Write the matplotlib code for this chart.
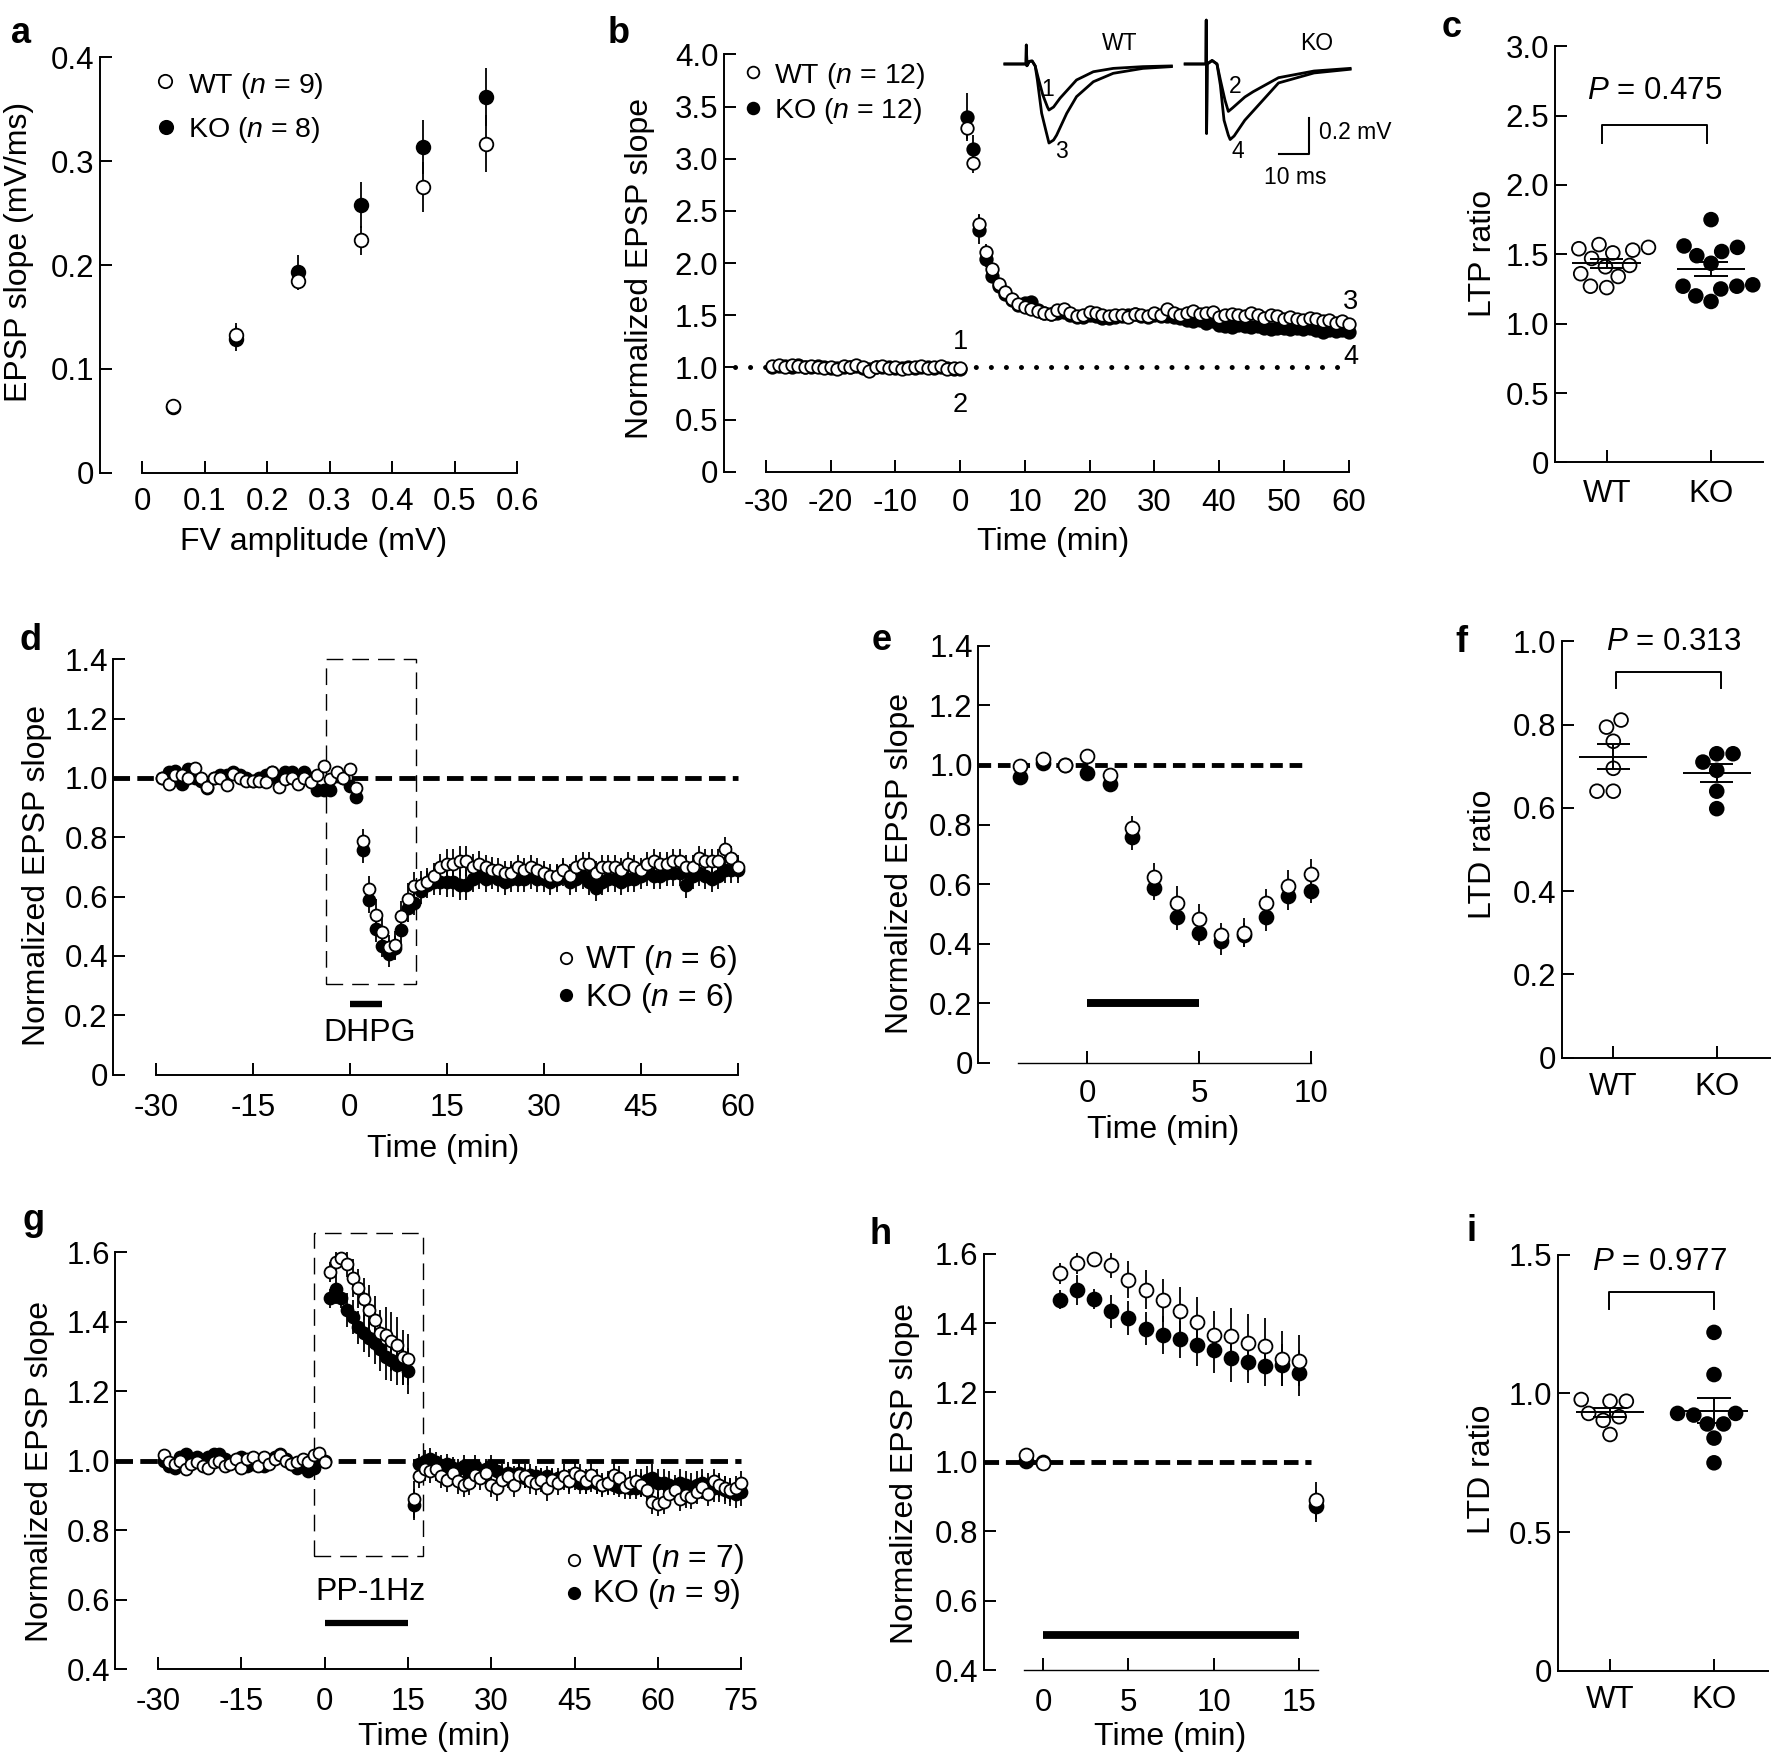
import numpy as np
import pandas as pd
import matplotlib
matplotlib.use("Agg")
import matplotlib.pyplot as plt
import seaborn as sns
from matplotlib.patches import Rectangle

# ======================= DATA =======================
# ---- panel a : input/output ----
a_fv = [0.05, 0.15, 0.25, 0.35, 0.45, 0.55]
a_wt = [0.0645, 0.133, 0.1845, 0.2237, 0.2753, 0.317]
a_wt_err = [0.003, 0.011, 0.009, 0.014, 0.024, 0.027]
a_ko = [0.063, 0.129, 0.1934, 0.2575, 0.3138, 0.3615]
a_ko_err = [0.004, 0.012, 0.016, 0.022, 0.026, 0.028]
a_xticks = [0, 0.1, 0.2, 0.3, 0.4, 0.5, 0.6]
a_xticklabels = ['0', '0.1', '0.2', '0.3', '0.4', '0.5', '0.6']
a_yticks = [0, 0.1, 0.2, 0.3, 0.4]
a_yticklabels = ['0', '0.1', '0.2', '0.3', '0.4']

# ---- panel b : LTP time course ----
b_time = list(range(-29, 61))
b_wt = [1.01, 1.02, 1.00, 1.02, 1.01, 1.00, 1.01, 1.00, 0.99, 1.00,
        0.98, 1.01, 1.00, 1.02, 1.00, 0.97, 1.00, 1.01, 0.99, 1.00,
        0.98, 0.99, 1.00, 1.01, 0.99, 1.00, 1.01, 0.98, 0.99, 0.99,
        3.29, 2.96, 2.37, 2.11, 1.94, 1.80, 1.72, 1.66, 1.61, 1.58,
        1.56, 1.54, 1.52, 1.51, 1.55, 1.56, 1.52, 1.49, 1.50, 1.53,
        1.52, 1.50, 1.49, 1.50, 1.50, 1.48, 1.51, 1.50, 1.49, 1.52,
        1.50, 1.56, 1.52, 1.50, 1.52, 1.54, 1.51, 1.52, 1.53, 1.48,
        1.50, 1.51, 1.50, 1.49, 1.52, 1.50, 1.47, 1.50, 1.49, 1.46,
        1.48, 1.46, 1.45, 1.47, 1.46, 1.44, 1.45, 1.43, 1.44, 1.42]
b_wt_err = [0.02, 0.02, 0.02, 0.02, 0.02, 0.02, 0.02, 0.02, 0.02, 0.02,
            0.02, 0.02, 0.02, 0.02, 0.02, 0.02, 0.02, 0.02, 0.02, 0.02,
            0.02, 0.02, 0.02, 0.02, 0.02, 0.02, 0.02, 0.02, 0.02, 0.02,
            0.10, 0.10, 0.10, 0.07, 0.06, 0.05, 0.05, 0.04, 0.04, 0.04,
            0.04, 0.04, 0.04, 0.04, 0.04, 0.04, 0.04, 0.04, 0.04, 0.04,
            0.04, 0.04, 0.04, 0.04, 0.04, 0.04, 0.04, 0.04, 0.04, 0.04,
            0.04, 0.04, 0.04, 0.04, 0.04, 0.04, 0.04, 0.04, 0.04, 0.04,
            0.04, 0.04, 0.04, 0.04, 0.04, 0.04, 0.04, 0.04, 0.04, 0.04,
            0.04, 0.04, 0.04, 0.04, 0.04, 0.04, 0.04, 0.04, 0.04, 0.04]
b_ko = [1.00, 1.01, 1.01, 1.00, 1.02, 1.00, 1.00, 1.01, 1.00, 0.99,
        0.99, 1.00, 1.00, 1.01, 0.99, 0.98, 1.00, 1.00, 1.00, 0.99,
        0.99, 1.00, 0.99, 1.00, 1.00, 0.99, 1.00, 0.99, 0.98, 0.98,
        3.40, 3.09, 2.32, 2.04, 1.88, 1.78, 1.70, 1.65, 1.60, 1.62,
        1.63, 1.55, 1.52, 1.51, 1.52, 1.53, 1.50, 1.48, 1.48, 1.50,
        1.49, 1.47, 1.47, 1.48, 1.49, 1.50, 1.51, 1.49, 1.48, 1.50,
        1.49, 1.49, 1.48, 1.47, 1.45, 1.44, 1.45, 1.43, 1.44, 1.41,
        1.40, 1.39, 1.41, 1.40, 1.39, 1.40, 1.38, 1.37, 1.38, 1.38,
        1.37, 1.38, 1.37, 1.38, 1.36, 1.34, 1.36, 1.35, 1.36, 1.34]
b_ko_err = [0.02, 0.02, 0.02, 0.02, 0.02, 0.02, 0.02, 0.02, 0.02, 0.02,
            0.02, 0.02, 0.02, 0.02, 0.02, 0.02, 0.02, 0.02, 0.02, 0.02,
            0.02, 0.02, 0.02, 0.02, 0.02, 0.02, 0.02, 0.02, 0.02, 0.02,
            0.23, 0.14, 0.14, 0.08, 0.06, 0.05, 0.05, 0.05, 0.05, 0.05,
            0.05, 0.05, 0.05, 0.05, 0.05, 0.05, 0.05, 0.05, 0.05, 0.05,
            0.05, 0.05, 0.05, 0.05, 0.05, 0.05, 0.05, 0.05, 0.05, 0.05,
            0.05, 0.05, 0.05, 0.05, 0.05, 0.05, 0.05, 0.05, 0.05, 0.05,
            0.05, 0.05, 0.05, 0.05, 0.05, 0.05, 0.05, 0.05, 0.05, 0.05,
            0.05, 0.05, 0.05, 0.05, 0.05, 0.05, 0.05, 0.05, 0.05, 0.05]
b_xticks = [-30, -20, -10, 0, 10, 20, 30, 40, 50, 60]
b_xticklabels = ['-30', '-20', '-10', '0', '10', '20', '30', '40', '50', '60']
b_yticks = [0, 0.5, 1.0, 1.5, 2.0, 2.5, 3.0, 3.5, 4.0]
b_yticklabels = ['0', '0.5', '1.0', '1.5', '2.0', '2.5', '3.0', '3.5', '4.0']

# ---- panel b inset : example EPSP traces (ms, mV) ----
tr_wt1_t = [1.6, 8.5, 8.6, 8.8, 9.6, 10.5, 11.5, 12.5, 14.0, 15.5, 16.0, 17.5, 19.6, 25.0, 30.5, 37.0, 46.7, 56.0]
tr_wt1_v = [0.0, 0.0, 0.108, -0.01, 0.015, 0.017, -0.011, -0.08, -0.177, -0.245, -0.262, -0.245, -0.195, -0.091, -0.044, -0.025, -0.015, -0.011]
tr_wt3_t = [1.6, 8.5, 8.6, 8.8, 9.6, 10.5, 11.5, 12.2, 13.6, 15.0, 16.0, 17.5, 18.5, 21.8, 25.0, 30.5, 37.0, 46.7, 56.0]
tr_wt3_v = [0.0, 0.0, 0.108, -0.01, 0.015, 0.017, -0.011, -0.09, -0.28, -0.38, -0.45, -0.433, -0.405, -0.281, -0.186, -0.101, -0.053, -0.025, -0.015]
tr_ko2_t = [60.5, 67.3, 67.4, 67.5, 67.7, 69.3, 70.9, 72.0, 73.5, 74.6, 76.0, 80.0, 82.7, 91.0, 102.6, 114.4]
tr_ko2_v = [0.0, 0.0, 0.25, -0.395, 0.0, 0.02, 0.0, -0.09, -0.205, -0.27, -0.25, -0.188, -0.158, -0.078, -0.04, -0.025]
tr_ko4_t = [60.5, 67.3, 67.4, 67.5, 67.7, 69.3, 70.9, 72.0, 73.2, 74.6, 75.2, 76.5, 80.0, 82.7, 91.0, 102.6, 114.4]
tr_ko4_v = [0.0, 0.0, 0.25, -0.395, 0.0, 0.02, 0.0, -0.12, -0.32, -0.405, -0.43, -0.41, -0.32, -0.268, -0.108, -0.051, -0.03]
scale_ms = 10
scale_mv = 0.2

# ---- panel c : LTP ratio ----
c_wt = [1.57, 1.55, 1.53, 1.54, 1.51, 1.47, 1.42, 1.41, 1.36, 1.34, 1.26, 1.27]
c_ko = [1.75, 1.56, 1.52, 1.55, 1.49, 1.435, 1.28, 1.27, 1.25, 1.27, 1.16, 1.20]
c_p = 'P = 0.475'
c_yticks = [0, 0.5, 1.0, 1.5, 2.0, 2.5, 3.0]
c_yticklabels = ['0', '0.5', '1.0', '1.5', '2.0', '2.5', '3.0']

# ---- panel d/e : DHPG LTD ----
d_time = list(range(-29, 61))
d_wt = [1.00, 0.98, 1.01, 1.01, 1.00, 1.035, 1.00, 0.97, 1.00, 1.00,
        0.975, 1.015, 1.00, 0.99, 0.99, 0.99, 0.985, 1.02, 0.97, 0.995,
        1.00, 0.98, 1.00, 0.985, 1.01, 1.04, 0.995, 1.019, 1.001, 1.031,
        0.965, 0.787, 0.625, 0.537, 0.482, 0.429, 0.437, 0.535, 0.592, 0.635,
        0.64, 0.65, 0.67, 0.70, 0.71, 0.71, 0.72, 0.72, 0.70, 0.71,
        0.70, 0.69, 0.69, 0.68, 0.68, 0.70, 0.69, 0.70, 0.69, 0.68,
        0.67, 0.67, 0.69, 0.67, 0.70, 0.71, 0.71, 0.68, 0.70, 0.70,
        0.70, 0.69, 0.71, 0.70, 0.69, 0.71, 0.72, 0.71, 0.71, 0.72,
        0.72, 0.70, 0.70, 0.73, 0.72, 0.72, 0.72, 0.76, 0.73, 0.70]
d_wt_err = [0.015, 0.015, 0.015, 0.015, 0.015, 0.015, 0.015, 0.015, 0.015, 0.015,
            0.015, 0.015, 0.015, 0.015, 0.015, 0.015, 0.015, 0.015, 0.015, 0.015,
            0.015, 0.015, 0.015, 0.015, 0.015, 0.015, 0.015, 0.010, 0.010, 0.015,
            0.015, 0.040, 0.045, 0.056, 0.050, 0.040, 0.048, 0.050, 0.055, 0.048,
            0.045, 0.045, 0.045, 0.045, 0.050, 0.050, 0.050, 0.050, 0.045, 0.045,
            0.040, 0.045, 0.040, 0.040, 0.040, 0.040, 0.040, 0.040, 0.040, 0.040,
            0.040, 0.040, 0.040, 0.040, 0.040, 0.040, 0.040, 0.040, 0.040, 0.040,
            0.040, 0.040, 0.040, 0.040, 0.040, 0.040, 0.040, 0.040, 0.040, 0.040,
            0.040, 0.040, 0.040, 0.040, 0.040, 0.040, 0.040, 0.040, 0.040, 0.040]
d_ko = [1.00, 1.02, 1.025, 0.98, 1.03, 1.00, 0.99, 0.965, 1.00, 1.01,
        1.01, 1.02, 1.01, 1.00, 0.99, 1.00, 1.01, 1.02, 0.99, 1.02,
        1.02, 0.99, 1.02, 1.00, 0.96, 0.96, 0.959, 1.007, 1.00, 0.973,
        0.935, 0.758, 0.587, 0.491, 0.435, 0.408, 0.428, 0.489, 0.561, 0.578,
        0.62, 0.64, 0.65, 0.65, 0.65, 0.65, 0.64, 0.64, 0.66, 0.67,
        0.66, 0.67, 0.66, 0.65, 0.66, 0.66, 0.66, 0.67, 0.66, 0.66,
        0.65, 0.66, 0.68, 0.65, 0.66, 0.67, 0.65, 0.63, 0.65, 0.66,
        0.66, 0.65, 0.66, 0.66, 0.67, 0.68, 0.67, 0.67, 0.68, 0.68,
        0.68, 0.64, 0.67, 0.68, 0.67, 0.66, 0.67, 0.69, 0.69, 0.69]
d_ko_err = [0.015, 0.015, 0.015, 0.015, 0.015, 0.015, 0.015, 0.015, 0.015, 0.015,
            0.015, 0.015, 0.015, 0.015, 0.015, 0.015, 0.015, 0.015, 0.015, 0.015,
            0.015, 0.015, 0.015, 0.015, 0.015, 0.015, 0.015, 0.010, 0.010, 0.015,
            0.015, 0.045, 0.042, 0.045, 0.040, 0.046, 0.040, 0.048, 0.048, 0.041,
            0.045, 0.045, 0.045, 0.045, 0.050, 0.050, 0.050, 0.050, 0.045, 0.045,
            0.045, 0.045, 0.045, 0.045, 0.045, 0.045, 0.045, 0.045, 0.045, 0.045,
            0.045, 0.045, 0.045, 0.045, 0.045, 0.045, 0.045, 0.045, 0.045, 0.045,
            0.045, 0.045, 0.045, 0.045, 0.045, 0.045, 0.045, 0.045, 0.045, 0.045,
            0.045, 0.045, 0.045, 0.045, 0.045, 0.045, 0.045, 0.045, 0.045, 0.045]
dhpg_window = [0, 5]
d_xticks = [-30, -15, 0, 15, 30, 45, 60]
d_xticklabels = ['-30', '-15', '0', '15', '30', '45', '60']
d_yticks = [0, 0.2, 0.4, 0.6, 0.8, 1.0, 1.2, 1.4]
d_yticklabels = ['0', '0.2', '0.4', '0.6', '0.8', '1.0', '1.2', '1.4']
e_range = [-3, 10]
e_xticks = [0, 5, 10]
e_xticklabels = ['0', '5', '10']

# ---- panel f : DHPG LTD ratio ----
f_wt = [0.794, 0.811, 0.760, 0.695, 0.640, 0.640]
f_ko = [0.710, 0.730, 0.730, 0.690, 0.640, 0.598]
f_p = 'P = 0.313'
f_yticks = [0, 0.2, 0.4, 0.6, 0.8, 1.0]
f_yticklabels = ['0', '0.2', '0.4', '0.6', '0.8', '1.0']

# ---- panel g/h : PP-1Hz LTD ----
g_time = list(range(-29, 76))
g_wt = [1.015, 0.995, 0.99, 1.0, 0.975, 0.99, 0.995, 0.985, 0.98, 0.995,
        1.0, 0.985, 0.99, 1.005, 0.98, 1.005, 1.01, 0.985, 1.01, 0.99,
        1.005, 1.015, 1.0, 0.99, 0.995, 1.005, 0.995, 1.015, 1.021, 0.997,
        1.543, 1.572, 1.584, 1.566, 1.525, 1.496, 1.465, 1.434, 1.404, 1.366,
        1.362, 1.343, 1.333, 1.297, 1.292, 0.889,
        0.955, 0.975, 0.97, 0.975, 0.955, 0.945, 0.965, 0.94, 0.93, 0.935,
        0.96, 0.95, 0.965, 0.93, 0.92, 0.945, 0.955, 0.93, 0.96, 0.955,
        0.94, 0.935, 0.945, 0.92, 0.945, 0.935, 0.955, 0.94, 0.965, 0.955,
        0.94, 0.96, 0.94, 0.93, 0.935, 0.96, 0.95, 0.925, 0.935, 0.94,
        0.93, 0.915, 0.88, 0.875, 0.88, 0.905, 0.915, 0.89, 0.90, 0.895,
        0.91, 0.925, 0.905, 0.94, 0.93, 0.92, 0.915, 0.92, 0.935]
g_wt_err = [0.015, 0.015, 0.015, 0.015, 0.015, 0.015, 0.015, 0.015, 0.015, 0.015,
            0.015, 0.015, 0.015, 0.015, 0.015, 0.015, 0.015, 0.015, 0.015, 0.015,
            0.015, 0.015, 0.015, 0.015, 0.015, 0.015, 0.015, 0.015, 0.012, 0.010,
            0.030, 0.030, 0.018, 0.036, 0.054, 0.057, 0.061, 0.071, 0.071, 0.068,
            0.081, 0.084, 0.081, 0.079, 0.073, 0.053,
            0.035, 0.035, 0.035, 0.035, 0.035, 0.035, 0.035, 0.035, 0.035, 0.035,
            0.035, 0.035, 0.035, 0.035, 0.035, 0.035, 0.035, 0.035, 0.035, 0.035,
            0.035, 0.035, 0.035, 0.035, 0.035, 0.035, 0.035, 0.035, 0.035, 0.035,
            0.035, 0.035, 0.035, 0.035, 0.035, 0.035, 0.035, 0.035, 0.035, 0.035,
            0.035, 0.035, 0.035, 0.035, 0.035, 0.035, 0.035, 0.035, 0.035, 0.035,
            0.035, 0.035, 0.035, 0.035, 0.035, 0.035, 0.035, 0.035, 0.035]
g_ko = [1.0, 0.985, 0.98, 1.01, 1.02, 1.005, 1.01, 0.995, 1.01, 1.02,
        1.02, 1.005, 0.995, 1.0, 1.01, 0.985, 0.99, 0.995, 0.985, 1.0,
        1.01, 1.02, 1.005, 0.99, 0.98, 0.985, 0.97, 0.98, 1.003, 1.0,
        1.467, 1.495, 1.469, 1.434, 1.414, 1.384, 1.366, 1.353, 1.338, 1.321,
        1.299, 1.289, 1.275, 1.279, 1.257, 0.873,
        0.99, 1.0, 1.005, 0.995, 0.985, 0.99, 0.98, 0.975, 0.985, 0.965,
        0.985, 0.96, 0.975, 0.985, 0.97, 0.96, 0.965, 0.955, 0.965, 0.95,
        0.96, 0.955, 0.95, 0.955, 0.945, 0.95, 0.945, 0.94, 0.945, 0.935,
        0.935, 0.94, 0.935, 0.93, 0.935, 0.93, 0.925, 0.93, 0.92, 0.92,
        0.935, 0.945, 0.95, 0.935, 0.935, 0.93, 0.92, 0.935, 0.93, 0.925,
        0.93, 0.935, 0.925, 0.92, 0.92, 0.915, 0.91, 0.905, 0.91]
g_ko_err = [0.015, 0.015, 0.015, 0.015, 0.015, 0.015, 0.015, 0.015, 0.015, 0.015,
            0.015, 0.015, 0.015, 0.015, 0.015, 0.015, 0.015, 0.015, 0.015, 0.015,
            0.015, 0.015, 0.015, 0.015, 0.015, 0.015, 0.015, 0.015, 0.012, 0.010,
            0.027, 0.044, 0.030, 0.048, 0.049, 0.048, 0.054, 0.054, 0.061, 0.064,
            0.068, 0.061, 0.057, 0.061, 0.066, 0.045,
            0.030, 0.030, 0.030, 0.030, 0.030, 0.030, 0.030, 0.030, 0.030, 0.030,
            0.030, 0.030, 0.030, 0.030, 0.030, 0.030, 0.030, 0.030, 0.030, 0.030,
            0.030, 0.030, 0.030, 0.030, 0.030, 0.030, 0.030, 0.030, 0.030, 0.030,
            0.030, 0.030, 0.030, 0.030, 0.030, 0.030, 0.030, 0.030, 0.030, 0.030,
            0.040, 0.040, 0.040, 0.040, 0.040, 0.040, 0.040, 0.040, 0.040, 0.040,
            0.040, 0.040, 0.040, 0.040, 0.040, 0.040, 0.040, 0.040, 0.040]
pp_window = [0, 15]
g_xticks = [-30, -15, 0, 15, 30, 45, 60, 75]
g_xticklabels = ['-30', '-15', '0', '15', '30', '45', '60', '75']
g_yticks = [0.4, 0.6, 0.8, 1.0, 1.2, 1.4, 1.6]
g_yticklabels = ['0.4', '0.6', '0.8', '1.0', '1.2', '1.4', '1.6']
h_range = [-1, 16]
h_xticks = [0, 5, 10, 15]
h_xticklabels = ['0', '5', '10', '15']

# ---- panel i : PP-1Hz LTD ratio ----
i_wt = [0.972, 0.928, 0.978, 0.916, 0.852, 0.972, 0.903]
i_ko = [1.220, 1.068, 0.928, 0.928, 0.922, 0.890, 0.890, 0.839, 0.750]
i_p = 'P = 0.977'
i_yticks = [0, 0.5, 1.0, 1.5]
i_yticklabels = ['0', '0.5', '1.0', '1.5']

groups = ['WT', 'KO']

# ======================= STYLE =======================
plt.rcParams['font.family'] = ['Liberation Sans', 'DejaVu Sans']
plt.rcParams['mathtext.fontset'] = 'custom'
plt.rcParams['mathtext.rm'] = 'Liberation Sans'
plt.rcParams['mathtext.it'] = 'Liberation Sans:italic'
plt.rcParams['axes.linewidth'] = 1.4

W, H = 1773, 1753
fig = plt.figure(figsize=(W / 100, H / 100), dpi=100)

TICK = 22.5
LAB = 23
LW = 1.4


def px_axes(l, t, r, b):
    return fig.add_axes([l / W, 1 - b / H, (r - l) / W, (b - t) / H])


def base_style(ax, xpad=11.5, ypad=4):
    ax.spines['top'].set_visible(False)
    ax.spines['right'].set_visible(False)
    ax.patch.set_visible(False)
    ax.tick_params(axis='both', direction='in', width=LW, length=8.5,
                   labelsize=TICK, color='black')
    ax.tick_params(axis='y', pad=ypad)
    ax.tick_params(axis='x', pad=xpad)


def series(ax, t, y, err, filled, ms, z):
    ax.errorbar(t, y, yerr=err, fmt='o', ms=ms,
                mfc='black' if filled else 'white', mec='black', mew=1.3,
                ecolor='black', elinewidth=1.3, capsize=0, clip_on=False,
                zorder=z)


def subset(t, y, e, lo, hi):
    t = np.asarray(t); y = np.asarray(y); e = np.asarray(e)
    m = (t >= lo) & (t <= hi)
    return t[m], y[m], e[m]


def dot_panel(ax, wt, ko, ptext, bracket, ptxt_xy):
    df = pd.DataFrame({'group': ['WT'] * len(wt) + ['KO'] * len(ko),
                       'value': list(wt) + list(ko)})
    sns.swarmplot(data=df, x='group', y='value', hue='group', order=groups,
                  hue_order=groups, palette={'WT': 'white', 'KO': 'black'},
                  edgecolor='black', linewidth=1.3, size=9.9, legend=False,
                  ax=ax, zorder=3, clip_on=False)
    for i, vals in enumerate([wt, ko]):
        m = np.mean(vals)
        s = np.std(vals, ddof=1) / np.sqrt(len(vals))
        kw = dict(color='black', lw=LW, zorder=6, solid_capstyle='butt')
        ax.plot([i - 0.33, i + 0.33], [m, m], **kw)
        ax.plot([i, i], [m - s, m + s], **kw)
        ax.plot([i - 0.16, i + 0.16], [m + s, m + s], **kw)
        ax.plot([i - 0.16, i + 0.16], [m - s, m - s], **kw)
    x0, x1, ytop, ybot = bracket
    ax.plot([x0, x0, x1, x1], [ybot, ytop, ytop, ybot], color='black', lw=LW,
            clip_on=False)
    p, val = ptext.split('=')
    ax.text(ptxt_xy[0], ptxt_xy[1], r'$\mathit{P}$ =' + val, ha='center',
            va='baseline', fontsize=22.5, clip_on=False)
    ax.set_xlabel('')
    ax.set_ylabel('')
    ax.set_xticks([0, 1])
    ax.set_xticklabels(groups)


def dashed_one(ax, xend, dashes, lw=3.5):
    ax.plot([ax.get_xlim()[0], xend], [1, 1], color='black', lw=lw,
            ls=(0, dashes), dash_capstyle='butt', zorder=1, clip_on=False)


# ======================= PANEL a =======================
ax = px_axes(100, 57.3, 517.1, 472.8)
base_style(ax, xpad=10)
series(ax, a_fv, a_ko, a_ko_err, True, 9.8, 3)
series(ax, a_fv, a_wt, a_wt_err, False, 9.8, 4)
ax.set_xlim(-0.0674, 0.6)
ax.set_ylim(0, 0.4)
ax.spines['bottom'].set_bounds(0, 0.6)
ax.set_xticks(a_xticks); ax.set_xticklabels(a_xticklabels)
ax.set_yticks(a_yticks); ax.set_yticklabels(a_yticklabels)
ax.set_ylabel('EPSP slope (mV/ms)', fontsize=LAB)
ax.yaxis.set_label_coords(-0.158, 0.532)
ax.set_xlabel('FV amplitude (mV)', fontsize=LAB)
ax.xaxis.set_label_coords(0.512, -0.13)

# ======================= PANEL b =======================
ax = px_axes(724, 54.4, 1348.5, 471.7)
base_style(ax, xpad=12)
ax.set_xlim(-36.46, 60)
ax.set_ylim(0, 4)
ax.plot([-34.7, 59.7], [1, 1], color='black', lw=3.6, ls=(0, (0.01, 3.0)),
        dash_capstyle='round', zorder=1)
series(ax, b_time, b_ko, b_ko_err, True, 9.0, 3)
series(ax, b_time, b_wt, b_wt_err, False, 9.0, 4)
ax.spines['bottom'].set_bounds(-30, 60)
ax.set_xticks(b_xticks); ax.set_xticklabels(b_xticklabels)
ax.set_yticks(b_yticks); ax.set_yticklabels(b_yticklabels)
ax.set_ylabel('Normalized EPSP slope', fontsize=LAB)
ax.yaxis.set_label_coords(-0.1105, 0.486)
ax.set_xlabel('Time (min)', fontsize=LAB)
ax.xaxis.set_label_coords(0.5265, -0.133)
for lab, xy in zip(['1', '2', '3', '4'], [(0, 1.24), (0, 0.64), (60.3, 1.63), (60.3, 1.10)]):
    ax.text(xy[0], xy[1], lab, ha='center', va='center', fontsize=19.5,
            clip_on=False)

# inset traces
ins = px_axes(990, 15, 1400, 185)
ins.set_xlim(-3.27, 130.7)
ins.set_ylim(-0.689, 0.279)
ins.axis('off')
for tt, vv in [(tr_wt1_t, tr_wt1_v), (tr_wt3_t, tr_wt3_v),
               (tr_ko2_t, tr_ko2_v), (tr_ko4_t, tr_ko4_v)]:
    ins.plot(tt, vv, color='black', lw=2.0, solid_joinstyle='round')
sb_x, sb_y = 101, -0.51
ins.plot([sb_x - scale_ms, sb_x, sb_x], [sb_y, sb_y, sb_y + scale_mv],
         color='black', lw=1.5)
ins.text(sb_x + 3.2, sb_y + scale_mv / 2 + 0.02, '0.2 mV', fontsize=16.5,
         ha='left', va='center')
ins.text(sb_x - 4.6, -0.647, '10 ms', fontsize=16.5, ha='center', va='center')
ins.text(39.2, 0.114, 'WT', fontsize=16.5, ha='center', va='center')
ins.text(103.6, 0.114, 'KO', fontsize=16.5, ha='center', va='center')
ins.text(15.7, -0.148, '1', fontsize=16.5, ha='center', va='center')
ins.text(20.2, -0.50, '3', fontsize=16.5, ha='center', va='center')
ins.text(76.8, -0.129, '2', fontsize=16.5, ha='center', va='center')
ins.text(77.8, -0.50, '4', fontsize=16.5, ha='center', va='center')

# ======================= PANEL c =======================
ax = px_axes(1555, 46.2, 1763.3, 462.4)
base_style(ax, xpad=12)
dot_panel(ax, c_wt, c_ko, c_p, (-0.048, 0.959, 2.43, 2.30), (0.463, 2.619))
ax.set_xlim(-0.496, 1.501)
ax.set_ylim(0, 3)
ax.set_yticks(c_yticks); ax.set_yticklabels(c_yticklabels)
ax.set_ylabel('LTP ratio', fontsize=LAB)
ax.yaxis.set_label_coords(-0.272, 0.502)

# ======================= PANEL d =======================
ax = px_axes(113.4, 659.3, 737.8, 1074.6)
base_style(ax, xpad=13)
ax.set_xlim(-36.54, 60)
ax.set_ylim(0, 1.4)
dashed_one(ax, 60, (3.4, 1.5))
series(ax, d_time, d_ko, d_ko_err, True, 8.6, 3)
series(ax, d_time, d_wt, d_wt_err, False, 8.6, 4)
ax.add_patch(Rectangle((-3.7, 0.305), 14.0, 1.095, fill=False, ec='black',
                       lw=1.0, ls=(0, (12, 6.5)), clip_on=False))
ax.plot(dhpg_window, [0.238, 0.238], color='black', lw=4.6,
        solid_capstyle='butt')
ax.text(np.mean(dhpg_window) + 0.5, 0.112, 'DHPG', fontsize=LAB, ha='center',
        va='baseline')
ax.spines['bottom'].set_bounds(-30, 60)
ax.set_xticks(d_xticks); ax.set_xticklabels(d_xticklabels)
ax.set_yticks(d_yticks); ax.set_yticklabels(d_yticklabels)
ax.set_ylabel('Normalized EPSP slope', fontsize=LAB)
ax.yaxis.set_label_coords(-0.098, 0.48)
ax.set_xlabel('Time (min)', fontsize=LAB)
ax.xaxis.set_label_coords(0.5275, -0.1437)

# ======================= PANEL e =======================
ax = px_axes(978.3, 645.7, 1310.7, 1062.9)
base_style(ax, xpad=11.5)
ax.set_xlim(-4.88, 10)
ax.set_ylim(0, 1.4)
dashed_one(ax, 9.82, (2.6, 1.4))
et, ey, ee = subset(d_time, d_ko, d_ko_err, *e_range)
series(ax, et, ey, ee, True, 10.0, 3)
et, ey, ee = subset(d_time, d_wt, d_wt_err, *e_range)
series(ax, et, ey, ee, False, 10.0, 4)
ax.plot(dhpg_window, [0.2, 0.2], color='black', lw=5.7, solid_capstyle='butt')
ax.spines['bottom'].set_bounds(-3.1, 10)
ax.spines['bottom'].set_linewidth(1.0)
ax.set_xticks(e_xticks); ax.set_xticklabels(e_xticklabels)
ax.set_yticks(d_yticks); ax.set_yticklabels(d_yticklabels)
ax.set_ylabel('Normalized EPSP slope', fontsize=LAB)
ax.yaxis.set_label_coords(-0.19, 0.477)
ax.set_xlabel('Time (min)', fontsize=LAB)
ax.xaxis.set_label_coords(0.557, -0.124)

# ======================= PANEL f =======================
ax = px_axes(1561.7, 641.4, 1770, 1057.5)
base_style(ax, xpad=10.3)
dot_panel(ax, f_wt, f_ko, f_p, (0.026, 1.04, 0.927, 0.888), (0.58, 0.9785))
ax.set_xlim(-0.499, 1.515)
ax.set_ylim(0, 1.0)
ax.set_yticks(f_yticks); ax.set_yticklabels(f_yticklabels)
ax.set_ylabel('LTD ratio', fontsize=LAB)
ax.yaxis.set_label_coords(-0.304, 0.489)

# ======================= PANEL g =======================
ax = px_axes(115.4, 1252.2, 741.3, 1669.1)
base_style(ax, xpad=12.7)
ax.set_xlim(-37.7, 75)
ax.set_ylim(0.4, 1.6)
dashed_one(ax, 75, (3.6, 1.5))
series(ax, g_time, g_ko, g_ko_err, True, 8.6, 3)
series(ax, g_time, g_wt, g_wt_err, False, 8.6, 4)
ax.add_patch(Rectangle((-1.86, 0.725), 19.53, 0.929, fill=False, ec='black',
                       lw=1.0, ls=(0, (12, 6.5)), clip_on=False))
ax.plot(pp_window, [0.534, 0.534], color='black', lw=4.5, solid_capstyle='butt')
ax.text(8.26, 0.598, 'PP-1Hz', fontsize=LAB, ha='center', va='baseline')
ax.spines['bottom'].set_bounds(-30, 75)
ax.set_xticks(g_xticks); ax.set_xticklabels(g_xticklabels)
ax.set_yticks(g_yticks); ax.set_yticklabels(g_yticklabels)
ax.set_ylabel('Normalized EPSP slope', fontsize=LAB)
ax.yaxis.set_label_coords(-0.097, 0.474)
ax.set_xlabel('Time (min)', fontsize=LAB)
ax.xaxis.set_label_coords(0.509, -0.127)

# ======================= PANEL h =======================
ax = px_axes(984, 1253.6, 1318.3, 1670.2)
base_style(ax, xpad=13)
ax.set_xlim(-3.48, 16.14)
ax.set_ylim(0.4, 1.6)
dashed_one(ax, 15.74, (3.0, 1.4))
ht, hy, he = subset(g_time, g_ko, g_ko_err, *h_range)
series(ax, ht, hy, he, True, 10.0, 3)
ht, hy, he = subset(g_time, g_wt, g_wt_err, *h_range)
series(ax, ht, hy, he, False, 10.0, 4)
ax.plot(pp_window, [0.5, 0.5], color='black', lw=5.6, solid_capstyle='butt')
ax.spines['bottom'].set_bounds(-1.11, 16.14)
ax.spines['bottom'].set_linewidth(1.0)
ax.set_xticks(h_xticks); ax.set_xticklabels(h_xticklabels)
ax.set_yticks(g_yticks); ax.set_yticklabels(g_yticklabels)
ax.set_ylabel('Normalized EPSP slope', fontsize=LAB)
ax.yaxis.set_label_coords(-0.191, 0.472)
ax.set_xlabel('Time (min)', fontsize=LAB)
ax.xaxis.set_label_coords(0.556, -0.124)

# ======================= PANEL i =======================
ax = px_axes(1557.7, 1254.7, 1768.3, 1670.9)
base_style(ax, xpad=10)
dot_panel(ax, i_wt, i_ko, i_p, (-0.007, 1.003, 1.366, 1.305), (0.48, 1.445))
ax.set_xlim(-0.503, 1.522)
ax.set_ylim(0, 1.5)
ax.set_yticks(i_yticks); ax.set_yticklabels(i_yticklabels)
ax.set_ylabel('LTD ratio', fontsize=LAB)
ax.yaxis.set_label_coords(-0.29, 0.485)

# ======================= OVERLAY: letters + legends =======================
ov = fig.add_axes([0, 0, 1, 1], zorder=20)
ov.set_xlim(0, W)
ov.set_ylim(H, 0)
ov.axis('off')

letters = ['a', 'b', 'c', 'd', 'e', 'f', 'g', 'h', 'i']
letter_xy = [(10.7, 42.5), (607.7, 42.5), (1441.7, 37), (19.9, 650),
             (871.7, 650.4), (1455, 652), (22.4, 1230), (870, 1244),
             (1466.7, 1240.6)]
for L, (x, y) in zip(letters, letter_xy):
    ov.text(x, y, L, fontsize=26, fontweight='bold', ha='left', va='baseline')

legends = [
    # (marker x, marker y, text x, text baseline, filled, n, marker size, font)
    (165, 80.7, 187.5, 92.5, False, 9, 9.6, 20.5),
    (166, 127, 187.5, 137, True, 8, 9.6, 20.5),
    (753, 72, 773.5, 83.2, False, 12, 8.4, 20.5),
    (753, 108, 773.5, 118.4, True, 12, 8.4, 20.5),
    (566, 957.5, 584.6, 968.2, False, 6, 8.2, 23),
    (566, 995, 584.6, 1005.7, True, 6, 8.2, 23),
    (574, 1559.8, 592, 1566.8, False, 7, 8.2, 23),
    (574, 1593.3, 592, 1602, True, 9, 8.2, 23),
]
for mx, my, tx, ty, filled, n, ms, fs in legends:
    ov.plot([mx], [my], 'o', ms=ms, mfc='black' if filled else 'white',
            mec='black', mew=1.3)
    name = 'KO' if filled else 'WT'
    ov.text(tx, ty, name + r' ($\mathit{n}$ = ' + str(n) + ')', fontsize=fs,
            ha='left', va='baseline')

fig.savefig('out.png', dpi=100)
